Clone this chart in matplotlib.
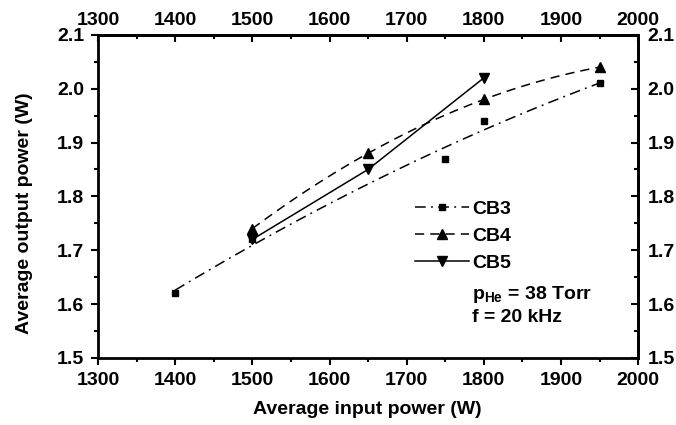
import numpy as np
import matplotlib
matplotlib.use("Agg")
import matplotlib.pyplot as plt
from matplotlib.lines import Line2D
from matplotlib.ticker import MultipleLocator

plt.rcParams['font.family'] = ['Liberation Sans', 'DejaVu Sans']
plt.rcParams['font.weight'] = 'bold'
plt.rcParams['mathtext.fontset'] = 'custom'
plt.rcParams['mathtext.rm'] = 'Liberation Sans:bold'
plt.rcParams['mathtext.bf'] = 'Liberation Sans:bold'

cb3_x = [1400, 1500, 1750, 1800, 1950]
cb3_y = [1.62, 1.72, 1.87, 1.94, 2.01]
cb4_x = [1500, 1650, 1800, 1950]
cb4_y = [1.74, 1.88, 1.98, 2.04]
cb5_x = [1500, 1650, 1800]
cb5_y = [1.72, 1.85, 2.02]
labels = ["CB3", "CB4", "CB5"]
x_ticks = [1300, 1400, 1500, 1600, 1700, 1800, 1900, 2000]
y_ticks = [1.5, 1.6, 1.7, 1.8, 1.9, 2.0, 2.1]

FS = 14
LW = 1.1
DASHDOT = (0, (7, 3.5, 1.2, 3.5))
DASHED = (0, (6, 4))

fig = plt.figure(figsize=(6.76, 4.25), dpi=100)
ax = fig.add_axes([0.145, 0.158, 0.799, 0.760])

# fitted smooth curves
for xs, ys, ls in [(cb3_x, cb3_y, DASHDOT), (cb4_x, cb4_y, DASHED)]:
    p = np.polyfit(xs, ys, 2)
    xx = np.linspace(min(xs), max(xs), 100)
    ax.plot(xx, np.polyval(p, xx), color='black', ls=ls, lw=LW)
ax.plot(cb5_x, cb5_y, color='black', ls='-', lw=LW)

ax.plot(cb3_x, cb3_y, 's', color='black', ms=5, ls='none')
ax.plot(cb4_x, cb4_y, '^', color='black', ms=7.5, ls='none')
ax.plot(cb5_x, cb5_y, 'v', color='black', ms=7.5, ls='none')

ax.set_xlim(1300, 2000)
ax.set_ylim(1.5, 2.1)
ax.set_xticks(x_ticks)
ax.set_yticks(y_ticks)
ax.set_yticklabels([f"{v:.1f}" for v in y_ticks])
ax.xaxis.set_minor_locator(MultipleLocator(50))
ax.yaxis.set_minor_locator(MultipleLocator(0.05))
ax.tick_params(which='both', direction='out', width=1.5, labelsize=FS)
ax.tick_params(which='major', length=5)
ax.tick_params(which='minor', length=3)
ax.tick_params(axis='x', pad=5)
ax.tick_params(axis='y', pad=5)
for s in ax.spines.values():
    s.set_linewidth(2)

secx = ax.secondary_xaxis('top')
secx.set_xticks(x_ticks)
secx.xaxis.set_minor_locator(MultipleLocator(50))
secx.tick_params(which='both', direction='in', width=1.5, labelsize=FS, pad=4.5)
secx.tick_params(which='major', length=5)
secx.tick_params(which='minor', length=3)
secx.spines['top'].set_linewidth(2)

secy = ax.secondary_yaxis('right')
secy.set_yticks(y_ticks)
secy.set_yticklabels([f"{v:.1f}" for v in y_ticks])
secy.yaxis.set_minor_locator(MultipleLocator(0.05))
secy.tick_params(which='both', direction='in', width=1.5, labelsize=FS, pad=7)
secy.tick_params(which='major', length=5)
secy.tick_params(which='minor', length=3)
secy.spines['right'].set_linewidth(2)

ax.set_xlabel("Average input power (W)", fontsize=FS, fontweight='bold')
ax.set_ylabel("Average output power (W)", fontsize=FS, fontweight='bold')
ax.xaxis.set_label_coords(0.499, -0.133)
ax.yaxis.set_label_coords(-0.12, 0.449)

handles = [
    Line2D([], [], color='black', ls=DASHDOT, lw=LW, marker='s', ms=5),
    Line2D([], [], color='black', ls=DASHED, lw=LW, marker='^', ms=7.5),
    Line2D([], [], color='black', ls='-', lw=LW, marker='v', ms=7.5),
]
leg = ax.legend(handles, labels, loc='upper left', bbox_to_anchor=(0.587, 0.489),
                frameon=False, fontsize=FS, handlelength=2.75, handletextpad=0.2,
                labelspacing=0.5, borderpad=0, borderaxespad=0)
for t in leg.get_texts():
    t.set_fontweight('bold')

ax.text(0.693, 0.195, r"$\mathbf{p_{He}}$ = 38 Torr", transform=ax.transAxes,
        fontsize=FS, fontweight='bold', va='center', ha='left')
ax.text(0.693, 0.124, "f = 20 kHz", transform=ax.transAxes,
        fontsize=FS, fontweight='bold', va='center', ha='left')

fig.savefig("out.png", dpi=100)
